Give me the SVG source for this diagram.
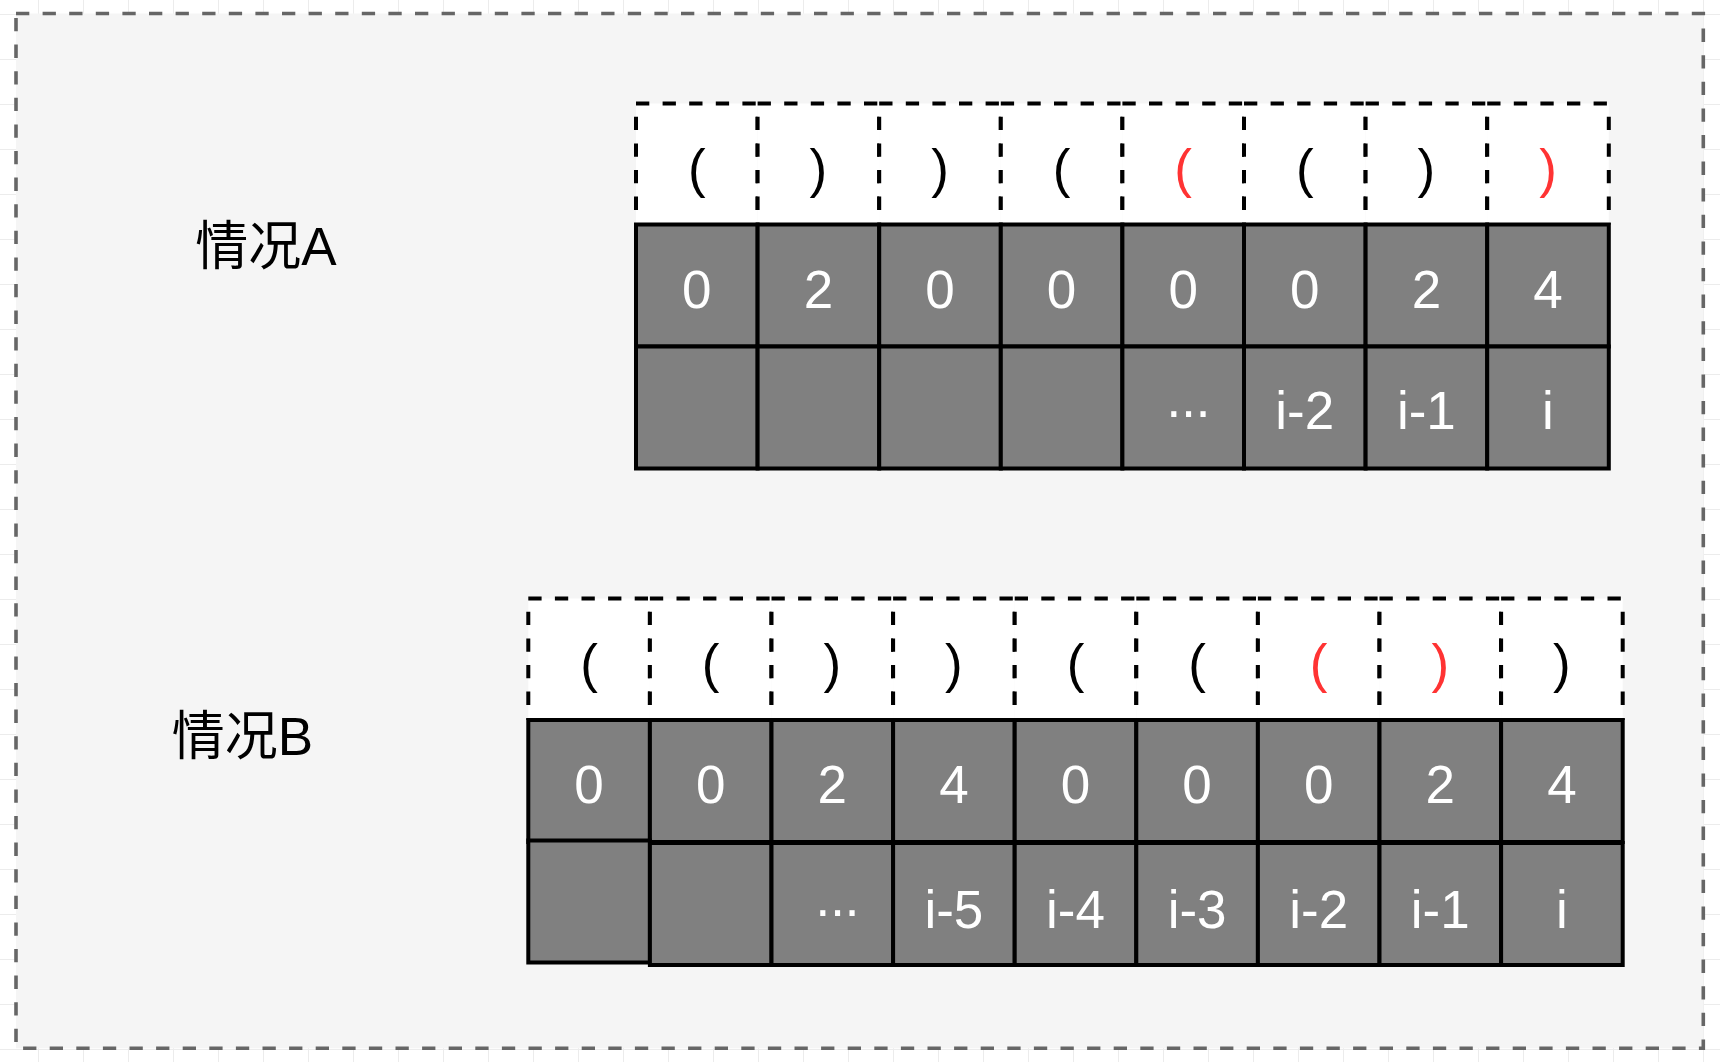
<svg xmlns="http://www.w3.org/2000/svg" width="1720" height="1062" viewBox="0 0 1720 1062">
<defs>
<pattern id="grid" x="38" y="14" width="45" height="45" patternUnits="userSpaceOnUse"><path d="M0 0.5 H45 M0.5 0 V45" fill="none" stroke="#ececec" stroke-width="1"/></pattern>
<style>
.frame{fill:#f5f5f5;stroke:#666666;stroke-width:3.6;stroke-dasharray:13.3 13.3}
.wf{fill:#ffffff}
.dh{stroke:#000;stroke-width:4;stroke-dasharray:13.3 13.3;fill:none}
.dv{stroke:#000;stroke-width:4;stroke-dasharray:13.3 13.3;stroke-dashoffset:13.3;fill:none}
.g{fill:#808080;stroke:#000;stroke-width:4}
.t{font-family:"Liberation Sans",Arial,sans-serif;font-size:53px;text-anchor:middle}
.k{fill:#000}
.r{fill:#FF3333}
.wt{fill:#ffffff}
.dots{letter-spacing:-3px}
.lbl{font-family:"Liberation Sans","Noto Sans CJK SC",sans-serif;font-size:53px;text-anchor:middle;fill:#000}
</style>
</defs>
<rect width="1720" height="1062" fill="#ffffff"/>
<rect width="1720" height="1062" fill="url(#grid)"/>
<g id="frame"><rect class="frame" x="16" y="13.5" width="1687.3" height="1034.8"/></g>

<g id="labelA"><text class="lbl" x="266" y="265">情况A</text></g>
<g id="labelB"><text class="lbl" x="242.5" y="755">情况B</text></g>

<!-- Case A: bracket row -->
<g id="A-top">
<g id="A-b1"><rect class="wf" x="636" y="103.5" width="121.6" height="121"/><line class="dh" x1="636" y1="103.5" x2="757.6" y2="103.5"/><line class="dv" x1="636" y1="103.5" x2="636" y2="224.5"/><line class="dv" x1="757.6" y1="103.5" x2="757.6" y2="224.5"/><text class="t k" x="696.8" y="186.5">(</text></g>
<g id="A-b2"><rect class="wf" x="757.6" y="103.5" width="121.6" height="121"/><line class="dh" x1="757.6" y1="103.5" x2="879.2" y2="103.5"/><line class="dv" x1="757.6" y1="103.5" x2="757.6" y2="224.5"/><line class="dv" x1="879.2" y1="103.5" x2="879.2" y2="224.5"/><text class="t k" x="818.4" y="186.5">)</text></g>
<g id="A-b3"><rect class="wf" x="879.2" y="103.5" width="121.6" height="121"/><line class="dh" x1="879.2" y1="103.5" x2="1000.8" y2="103.5"/><line class="dv" x1="879.2" y1="103.5" x2="879.2" y2="224.5"/><line class="dv" x1="1000.8" y1="103.5" x2="1000.8" y2="224.5"/><text class="t k" x="940" y="186.5">)</text></g>
<g id="A-b4"><rect class="wf" x="1000.8" y="103.5" width="121.6" height="121"/><line class="dh" x1="1000.8" y1="103.5" x2="1122.4" y2="103.5"/><line class="dv" x1="1000.8" y1="103.5" x2="1000.8" y2="224.5"/><line class="dv" x1="1122.4" y1="103.5" x2="1122.4" y2="224.5"/><text class="t k" x="1061.6" y="186.5">(</text></g>
<g id="A-b5"><rect class="wf" x="1122.4" y="103.5" width="121.6" height="121"/><line class="dh" x1="1122.4" y1="103.5" x2="1244" y2="103.5"/><line class="dv" x1="1122.4" y1="103.5" x2="1122.4" y2="224.5"/><line class="dv" x1="1244" y1="103.5" x2="1244" y2="224.5"/><text class="t r" x="1183.2" y="186.5">(</text></g>
<g id="A-b6"><rect class="wf" x="1244" y="103.5" width="121.6" height="121"/><line class="dh" x1="1244" y1="103.5" x2="1365.6" y2="103.5"/><line class="dv" x1="1244" y1="103.5" x2="1244" y2="224.5"/><line class="dv" x1="1365.6" y1="103.5" x2="1365.6" y2="224.5"/><text class="t k" x="1304.8" y="186.5">(</text></g>
<g id="A-b7"><rect class="wf" x="1365.6" y="103.5" width="121.6" height="121"/><line class="dh" x1="1365.6" y1="103.5" x2="1487.2" y2="103.5"/><line class="dv" x1="1365.6" y1="103.5" x2="1365.6" y2="224.5"/><line class="dv" x1="1487.2" y1="103.5" x2="1487.2" y2="224.5"/><text class="t k" x="1426.4" y="186.5">)</text></g>
<g id="A-b8"><rect class="wf" x="1487.2" y="103.5" width="121.6" height="121"/><line class="dh" x1="1487.2" y1="103.5" x2="1608.8" y2="103.5"/><line class="dv" x1="1487.2" y1="103.5" x2="1487.2" y2="224.5"/><line class="dv" x1="1608.8" y1="103.5" x2="1608.8" y2="224.5"/><text class="t r" x="1548" y="186.5">)</text></g>
</g>

<!-- Case A: value row -->
<g id="A-val">
<g id="A-v1"><rect class="g" x="636" y="224.5" width="121.6" height="122"/><text class="t wt" x="696.8" y="308">0</text></g>
<g id="A-v2"><rect class="g" x="757.6" y="224.5" width="121.6" height="122"/><text class="t wt" x="818.4" y="308">2</text></g>
<g id="A-v3"><rect class="g" x="879.2" y="224.5" width="121.6" height="122"/><text class="t wt" x="940" y="308">0</text></g>
<g id="A-v4"><rect class="g" x="1000.8" y="224.5" width="121.6" height="122"/><text class="t wt" x="1061.6" y="308">0</text></g>
<g id="A-v5"><rect class="g" x="1122.4" y="224.5" width="121.6" height="122"/><text class="t wt" x="1183.2" y="308">0</text></g>
<g id="A-v6"><rect class="g" x="1244" y="224.5" width="121.6" height="122"/><text class="t wt" x="1304.8" y="308">0</text></g>
<g id="A-v7"><rect class="g" x="1365.6" y="224.5" width="121.6" height="122"/><text class="t wt" x="1426.4" y="308">2</text></g>
<g id="A-v8"><rect class="g" x="1487.2" y="224.5" width="121.6" height="122"/><text class="t wt" x="1548" y="308">4</text></g>
</g>

<!-- Case A: index row -->
<g id="A-idx">
<g id="A-i1"><rect class="g" x="636" y="346.5" width="121.6" height="122"/></g>
<g id="A-i2"><rect class="g" x="757.6" y="346.5" width="121.6" height="122"/></g>
<g id="A-i3"><rect class="g" x="879.2" y="346.5" width="121.6" height="122"/></g>
<g id="A-i4"><rect class="g" x="1000.8" y="346.5" width="121.6" height="122"/></g>
<g id="A-i5"><rect class="g" x="1122.4" y="346.5" width="121.6" height="122"/><text class="t wt dots" x="1187" y="429">···</text></g>
<g id="A-i6"><rect class="g" x="1244" y="346.5" width="121.6" height="122"/><text class="t wt" x="1304.8" y="429">i-2</text></g>
<g id="A-i7"><rect class="g" x="1365.6" y="346.5" width="121.6" height="122"/><text class="t wt" x="1426.4" y="429">i-1</text></g>
<g id="A-i8"><rect class="g" x="1487.2" y="346.5" width="121.6" height="122"/><text class="t wt" x="1548" y="429">i</text></g>
</g>

<!-- Case B: bracket row -->
<g id="B-top">
<g id="B-b1"><rect class="wf" x="528.3" y="598.5" width="121.6" height="121.5"/><line class="dh" x1="528.3" y1="598.5" x2="649.9" y2="598.5"/><line class="dv" x1="528.3" y1="598.5" x2="528.3" y2="720"/><line class="dv" x1="649.9" y1="598.5" x2="649.9" y2="720"/><text class="t k" x="589.1" y="681.5">(</text></g>
<g id="B-b2"><rect class="wf" x="649.9" y="598.5" width="121.6" height="121.5"/><line class="dh" x1="649.9" y1="598.5" x2="771.5" y2="598.5"/><line class="dv" x1="649.9" y1="598.5" x2="649.9" y2="720"/><line class="dv" x1="771.5" y1="598.5" x2="771.5" y2="720"/><text class="t k" x="710.7" y="681.5">(</text></g>
<g id="B-b3"><rect class="wf" x="771.5" y="598.5" width="121.6" height="121.5"/><line class="dh" x1="771.5" y1="598.5" x2="893.1" y2="598.5"/><line class="dv" x1="771.5" y1="598.5" x2="771.5" y2="720"/><line class="dv" x1="893.1" y1="598.5" x2="893.1" y2="720"/><text class="t k" x="832.3" y="681.5">)</text></g>
<g id="B-b4"><rect class="wf" x="893.1" y="598.5" width="121.6" height="121.5"/><line class="dh" x1="893.1" y1="598.5" x2="1014.7" y2="598.5"/><line class="dv" x1="893.1" y1="598.5" x2="893.1" y2="720"/><line class="dv" x1="1014.7" y1="598.5" x2="1014.7" y2="720"/><text class="t k" x="953.9" y="681.5">)</text></g>
<g id="B-b5"><rect class="wf" x="1014.7" y="598.5" width="121.6" height="121.5"/><line class="dh" x1="1014.7" y1="598.5" x2="1136.3" y2="598.5"/><line class="dv" x1="1014.7" y1="598.5" x2="1014.7" y2="720"/><line class="dv" x1="1136.3" y1="598.5" x2="1136.3" y2="720"/><text class="t k" x="1075.5" y="681.5">(</text></g>
<g id="B-b6"><rect class="wf" x="1136.3" y="598.5" width="121.6" height="121.5"/><line class="dh" x1="1136.3" y1="598.5" x2="1257.9" y2="598.5"/><line class="dv" x1="1136.3" y1="598.5" x2="1136.3" y2="720"/><line class="dv" x1="1257.9" y1="598.5" x2="1257.9" y2="720"/><text class="t k" x="1197.1" y="681.5">(</text></g>
<g id="B-b7"><rect class="wf" x="1257.9" y="598.5" width="121.6" height="121.5"/><line class="dh" x1="1257.9" y1="598.5" x2="1379.5" y2="598.5"/><line class="dv" x1="1257.9" y1="598.5" x2="1257.9" y2="720"/><line class="dv" x1="1379.5" y1="598.5" x2="1379.5" y2="720"/><text class="t r" x="1318.7" y="681.5">(</text></g>
<g id="B-b8"><rect class="wf" x="1379.5" y="598.5" width="121.6" height="121.5"/><line class="dh" x1="1379.5" y1="598.5" x2="1501.1" y2="598.5"/><line class="dv" x1="1379.5" y1="598.5" x2="1379.5" y2="720"/><line class="dv" x1="1501.1" y1="598.5" x2="1501.1" y2="720"/><text class="t r" x="1440.3" y="681.5">)</text></g>
<g id="B-b9"><rect class="wf" x="1501.1" y="598.5" width="121.6" height="121.5"/><line class="dh" x1="1501.1" y1="598.5" x2="1622.7" y2="598.5"/><line class="dv" x1="1501.1" y1="598.5" x2="1501.1" y2="720"/><line class="dv" x1="1622.7" y1="598.5" x2="1622.7" y2="720"/><text class="t k" x="1561.9" y="681.5">)</text></g>
</g>

<!-- Case B: value row -->
<g id="B-val">
<g id="B-v1"><rect class="g" x="528.3" y="720" width="121.6" height="122"/><text class="t wt" x="589.1" y="802.5">0</text></g>
<g id="B-v2"><rect class="g" x="649.9" y="720" width="121.6" height="122"/><text class="t wt" x="710.7" y="802.5">0</text></g>
<g id="B-v3"><rect class="g" x="771.5" y="720" width="121.6" height="122"/><text class="t wt" x="832.3" y="802.5">2</text></g>
<g id="B-v4"><rect class="g" x="893.1" y="720" width="121.6" height="122"/><text class="t wt" x="953.9" y="802.5">4</text></g>
<g id="B-v5"><rect class="g" x="1014.7" y="720" width="121.6" height="122"/><text class="t wt" x="1075.5" y="802.5">0</text></g>
<g id="B-v6"><rect class="g" x="1136.3" y="720" width="121.6" height="122"/><text class="t wt" x="1197.1" y="802.5">0</text></g>
<g id="B-v7"><rect class="g" x="1257.9" y="720" width="121.6" height="122"/><text class="t wt" x="1318.7" y="802.5">0</text></g>
<g id="B-v8"><rect class="g" x="1379.5" y="720" width="121.6" height="122"/><text class="t wt" x="1440.3" y="802.5">2</text></g>
<g id="B-v9"><rect class="g" x="1501.1" y="720" width="121.6" height="122"/><text class="t wt" x="1561.9" y="802.5">4</text></g>
</g>

<!-- Case B: index row -->
<g id="B-idx">
<g id="B-i1"><rect class="g" x="528.3" y="840.5" width="121.6" height="122"/></g>
<g id="B-i2"><rect class="g" x="649.9" y="843" width="121.6" height="122"/></g>
<g id="B-i3"><rect class="g" x="771.5" y="843" width="121.6" height="122"/><text class="t wt dots" x="836" y="927.5">···</text></g>
<g id="B-i4"><rect class="g" x="893.1" y="843" width="121.6" height="122"/><text class="t wt" x="953.9" y="927.5">i-5</text></g>
<g id="B-i5"><rect class="g" x="1014.7" y="843" width="121.6" height="122"/><text class="t wt" x="1075.5" y="927.5">i-4</text></g>
<g id="B-i6"><rect class="g" x="1136.3" y="843" width="121.6" height="122"/><text class="t wt" x="1197.1" y="927.5">i-3</text></g>
<g id="B-i7"><rect class="g" x="1257.9" y="843" width="121.6" height="122"/><text class="t wt" x="1318.7" y="927.5">i-2</text></g>
<g id="B-i8"><rect class="g" x="1379.5" y="843" width="121.6" height="122"/><text class="t wt" x="1440.3" y="927.5">i-1</text></g>
<g id="B-i9"><rect class="g" x="1501.1" y="843" width="121.6" height="122"/><text class="t wt" x="1561.9" y="927.5">i</text></g>
</g>
</svg>
